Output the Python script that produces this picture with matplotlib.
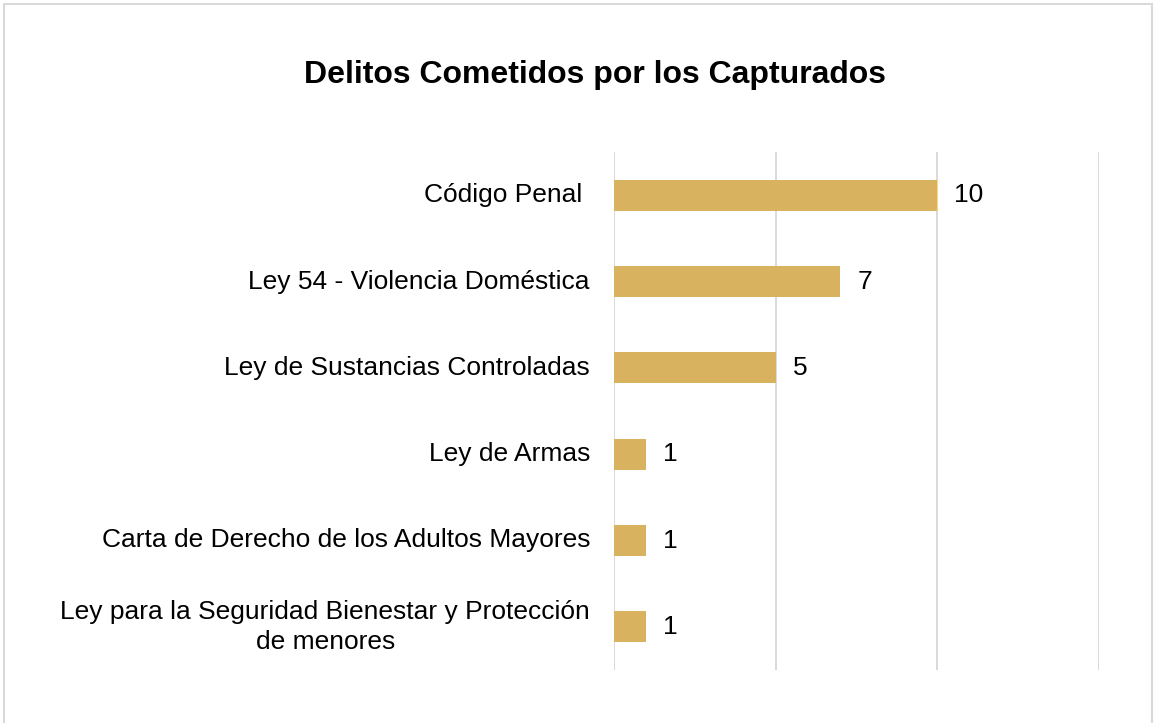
import matplotlib
matplotlib.use("Agg")
import matplotlib.pyplot as plt
from matplotlib.patches import Rectangle

plt.rcParams['font.family'] = ['Liberation Sans', 'DejaVu Sans']

categories = [
    "Código Penal ",
    "Ley 54 - Violencia Doméstica",
    "Ley de Sustancias Controladas",
    "Ley de Armas",
    "Carta de Derecho de los Adultos Mayores",
    "Ley para la Seguridad Bienestar y Protección\nde menores",
]
values = [10, 7, 5, 1, 1, 1]
xticks = [0, 5, 10, 15]
title = "Delitos Cometidos por los Capturados"

W, H = 1156, 723
fig = plt.figure(figsize=(W / 100, H / 100), dpi=100)
fig.patch.set_facecolor("white")

# outer chart border (bottom edge lies outside the image)
fig.add_artist(Rectangle((3.5 / W, -0.05), (1152 - 3.5) / W, 1.05 - 4.5 / H,
                         transform=fig.transFigure, fill=False,
                         edgecolor="#D9D9D9", linewidth=1.5))

ax = fig.add_axes([614 / W, 1 - 670 / H, (1099 - 614) / W, (670 - 152) / H])
ypos = list(range(len(categories)))
ax.barh(ypos, values, height=0.36, color="#D8B25E", zorder=3)
ax.set_xlim(0, 15)
ax.set_ylim(len(categories) - 0.5, -0.5)
ax.set_xticks(xticks)
ax.xaxis.grid(True, color="#D9D9D9", linewidth=1.4, zorder=0)
ax.set_xticklabels([])
ax.tick_params(axis="x", length=0)
ax.set_yticks([])
for s in ax.spines.values():
    s.set_visible(False)

# category labels (multi-line centered)
for i, c in enumerate(categories):
    ax.annotate(c, xy=(0, i), xycoords=("axes fraction", "data"),
                xytext=(-24, 0), textcoords="offset pixels",
                ha="right", va="center", fontsize=19, color="#000000",
                multialignment="center", linespacing=1.32)

for i, v in enumerate(values):
    ax.annotate(str(v), xy=(v, i), xytext=(17, 0), textcoords="offset pixels",
                ha="left", va="center", fontsize=19, color="#000000")

fig.text(595 / W, 1 - 75 / H, title, ha="center", va="center",
         fontsize=23, fontweight="bold", color="#000000")

fig.savefig("out.png", dpi=100, facecolor="white")
